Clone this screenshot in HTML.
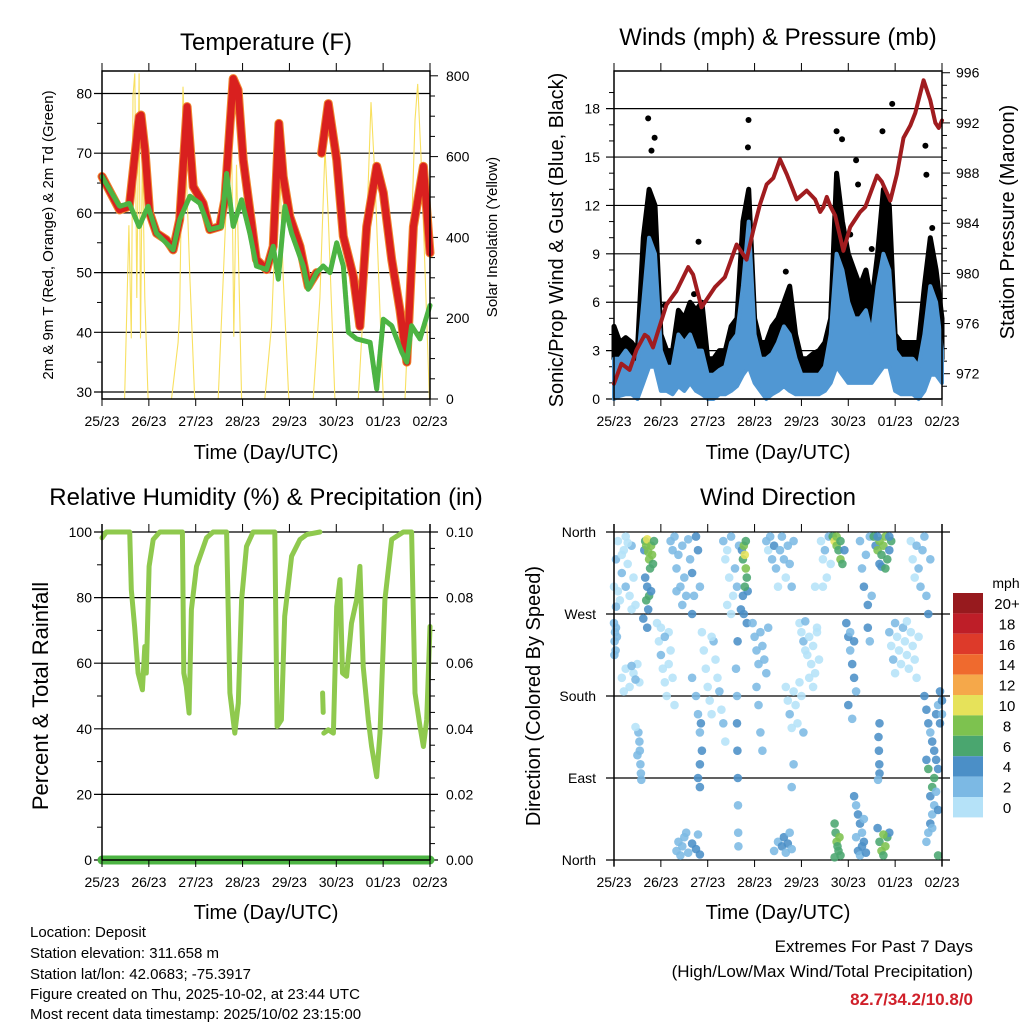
<!DOCTYPE html>
<html><head><meta charset="utf-8"><style>
html,body{margin:0;padding:0;background:#fff;}
svg{display:block;font-family:"Liberation Sans",Arial,sans-serif;}
</style></head><body>
<svg id="c" width="1024" height="1024" viewBox="0 0 1024 1024" xmlns="http://www.w3.org/2000/svg"></svg>
<script>
// ---------- DATA ----------
const dayLabels = ["25/23","26/23","27/23","28/23","29/23","30/23","01/23","02/23"];
const tempHours = [0,9,14,19,20,22,24.4,27.9,33,36.4,39.8,43.6,46.7,51.8,55.2,60.3,62.9,67.2,69.7,72.3,75.7,79.1,84.3,87.7,90.6,92.8,96.2,101.4,105.6,109.9,110.5,112.5,115.9,120.2,123.6,128.7,132.1,135.6,140.7,144.1,148.4,152.6,156.1,159.5,164.6,168];
const tempValues = [66.1,60.5,61.1,76.1,76.4,70.5,60,56.6,55.5,53.8,58.9,77.8,64.4,61.6,57.2,57.7,62.2,82.5,80.6,68.9,60.5,52.2,50.5,54.4,75,66.1,59.4,54.4,47.7,50,null,70,78.3,68.9,56.1,49.4,41,57.7,67.8,63.4,52.2,43.8,35,57.7,67.8,53.3];
const dewHours = [0,9,14,19,23.6,27.9,36.4,39.8,45,50.1,55.2,61.2,63.8,67.2,71.5,75.7,79.1,84.3,87.7,90.3,93.7,97.1,103.1,105.6,109.9,113.3,116.8,120.2,123.6,126.2,130.4,137.3,140.7,144.1,148.4,153.5,156.1,158.6,162.9,168];
const dewValues = [66.1,61.1,61.6,57.7,61.1,56.6,53.8,58.9,62.8,61.6,57.2,57.7,66.6,57.7,62.2,56.6,51.1,50.5,54.4,48.9,61.1,56.6,51.1,47.2,50,51.1,50,55,51.1,40,38.9,38.3,30.5,42.2,41.1,36.7,35,41.1,38.9,44.5];
const solarHours = [0,11.6,13.8,15,15.9,16.8,17.8,19,19.7,20.7,21.9,23.6,35.6,39,39.8,41.5,43.2,45,47.5,59.5,63.8,66.3,67.5,68.9,71.5,83.4,86.8,89.4,90.8,92.8,95.7,108.2,111.6,114.2,115.9,119.3,131.3,134.7,137.8,139.8,144.1,155.2,157.8,160.3,161.7,163.4,166.3,167.7];
const solarValues = [0,0,430,150,750,806,250,806,150,620,250,0,0,140,220,773,560,300,0,0,500,700,154,580,0,0,180,500,610,300,0,0,250,620,450,0,0,300,735,550,0,0,300,690,780,600,200,0];
const windHours = [0,3,6,9,12,15,18,21,24,27,30,33,36,39,42,45,48,51,54,57,60,63,66,69,72,75,78,81,84,87,90,93,96,99,102,105,108,111,114,117,120,123,126,129,132,135,138,141,144,147,150,153,156,159,162,165,168];
const windHi = [2.5,2.5,3,2.5,2,6,10,9,3,2,2,4,3.5,4,3,3,1.5,1.5,1.8,2,3.5,4,7,11,4,2.5,2.5,2.8,3.5,4.5,4,2.5,1.5,1.5,1.5,1.5,2,4,9,8,6,5,5,5.5,4,7,9,8,3,2.5,2.5,2.5,2,4,7,6,3];
const windLo = [0,0.2,0.3,0.3,0,1,2,2,0.5,0.5,0.3,0.8,0.5,1,0.5,0.3,0,0,0.3,0.3,0.5,0.8,1.5,2,1,0.5,0,0.3,0.5,0.8,0.5,0.3,0.3,0.3,0.3,0.3,0.5,1,2,1.5,1,1,1,1,1,1.5,2,2,0.5,0.3,0.3,0.3,0,0.5,1.5,1.5,1];
const gustHi = [4.5,3.5,3.8,3.5,3,10,13,12,4,3,3,5.5,5,6,5.5,6,2.5,2.5,3,3,4.5,5,11,13,5,3.5,3.5,4.5,5,6,7,4,2.5,2.5,2.8,3,3.5,5,14,11,9,8,7,8,6,9,13,12,4,3.5,3.5,3.5,3.5,7,10,8,5];
const gustLo = [2.5,2.5,2.5,2.5,1.5,4,6,5,2.5,2,2,2.5,2.5,3,2.5,2,1.5,1.5,1.5,1.5,2.5,3,5,6,3,2,2,2,2.5,3,3,2,1.5,1.5,1.5,1.5,2,2.5,5,4,3,3,2.5,3,2.5,4,6,5,2.5,2,2,1.5,1.5,3,4,3,2.5];
const gustOutHours = [17.5,20.8,19.2,43.3,68.9,68.6,114,116.8,124,125,142.5,137.5,159.5,160,163,41,26,88,121,132];
const gustOutValues = [17.4,16.2,15.4,9.75,17.3,15.6,16.6,16.1,14.8,13.3,18.3,16.6,15.7,13.9,10.6,6.5,5.8,7.9,10.2,9.3];
const presHours = [0,3.8,8,11.5,15.7,17.5,20,22.6,26.9,32,38,40.5,44.8,51.7,56.8,62.8,67.9,71.3,74.8,78.2,81.6,85,88.5,93.6,98.7,103,105.6,107.3,109,110.7,113.3,117.5,121,126.1,128.7,134.7,137.2,141.5,144.9,148.3,151.8,154.3,158.6,162,164.6,166.3,168];
const presValues = [971.2,972.8,972.3,973.9,975.1,974.9,974.1,975.4,977.5,978.6,980.5,979.9,977.3,978.9,979.7,982.3,981.1,983.4,985.5,987.1,987.6,989.1,987.9,985.9,986.6,985.9,984.9,985.3,986.1,985.4,984.6,981.8,983.7,984.9,985.3,987.8,987.3,985.8,987.9,990.8,991.8,992.8,995.4,993.8,992,991.6,992.2];
const rhHours = [0,2.2,14.2,15,16.7,18.5,20.7,21.9,22.7,24.1,26.2,29.6,41.2,41.9,43.2,44.6,45.8,48.4,53.5,56.9,63.8,65.5,68,69.8,71.5,74,77.4,88.5,89.7,91.9,93.6,97.1,101.4,104.8,111.6,112.2,113,113.3,113.5,113.6,115.9,118.5,120.2,121.9,123.2,125.3,127.8,130.4,132.1,133.8,136.4,138.1,140.7,142.4,144.9,148.4,154.3,158.6,160.3,162.9,164.6,166.3,168];
const rhValues = [98.2,100,100,82.4,71.2,57,51.9,65.1,57,89.5,97.7,100,100,57,52.9,44.8,76.3,89.5,98.2,100,100,50.9,38.7,47.8,79.3,95.6,100,100,40.7,42.7,74.3,92.6,97.7,99.2,100,null,50.9,45,null,38.7,39.7,38.7,77.3,85.5,57,56,72.2,79.3,89.5,59,42.7,34.6,25.4,38.7,79.3,97.7,100,100,50.9,40.7,34.6,42.7,71.2];
const precipHours = [0,168];
const precipValues = [0,0];
const dirPoints = [
[0,300,1],[1,330,2],[2,350,1],[3,285,1],[4,315,2],[5,340,1],[6,300,3],[7,325,1],[8,290,1],[9,345,2],[10,310,1],[11,280,1],[2,295,1],[6,355,1],[9,275,1],[4,335,1],[1,278,2],[7,348,1],
[0,260,3],[0.5,250,3],[0.3,240,3],[0.8,230,2],[1,255,2],[0.2,225,3],[1.5,245,2],
[4,200,1],[6,210,1],[8,190,1],[10,205,1],[12,215,1],[13,195,1],[5,185,1],[9,213,2],[11,198,2],
[15.5,340,5],[16,350,7],[16.5,345,8],[17,352,10],[17.5,338,8],[18,330,8],[18.5,320,7],[19,345,8],[19.5,335,9],[20,325,7],[16,310,5],[17,300,4],[18,290,6],[16.5,285,7],[17.5,275,5],[19,295,4],[20.5,350,6],[15,265,4],[17,255,4],
[12.5,140,2],[13,130,3],[13.2,120,3],[13.5,105,3],[13.8,95,3],[14,88,3],[11,146,1],[12,115,2],
[22,260,1],[23,240,1],[24,225,2],[25,210,1],[26,195,1],[27,180,1],[28,250,1],[29,230,1],[30,200,1],[31,170,1],[24,255,1],[26,245,2],[28,215,1],
[29,350,2],[30,340,3],[31,355,2],[32,320,3],[33,335,2],[34,300,3],[35,345,2],[36,310,3],[37,290,2],[38,352,3],[39,330,3],[40,315,4],[41,290,3],[42,355,4],[43,340,4],[44,300,3],[35,280,2],[32,295,3],[40,270,4],
[32,10,3],[33,20,2],[34,5,3],[35,15,3],[36,25,2],[38,8,3],[40,18,4],[42,12,4],[43,28,3],[44,6,4],[37,30,2],
[40,200,2],[42,180,2],[43,160,3],[44,140,3],[45,120,4],[46,230,1],[47,210,1],[48,190,1],[49,175,1],[50,160,1],[51,240,2],[52,220,1],[53,200,1],[54,185,2],[55,165,1],[56,150,2],[57,130,1],[45,250,1],[50,245,1],[44,105,4],[44,80,4],[43,90,4],[44.5,150,4],
[56,350,2],[57,330,1],[58,340,1],[59,310,1],[60,355,2],[61,290,1],[62,320,2],[63,300,3],[64,345,2],[58,280,1],[60,270,1],
[63,150,4],[63.2,120,4],[63.4,90,4],[63.5,60,3],[63.6,30,3],[63.7,15,2],[63,180,3],[62.5,210,3],[63.3,240,4],
[65.5,340,5],[66,330,6],[66.5,345,8],[67,335,10],[67.5,320,8],[68,310,6],[68.5,295,5],[67,300,6],[66,290,4],[65,275,4],[66.5,270,4],[68,260,4],[67.5,350,7],
[71,260,3],[72,245,2],[73,230,3],[74,215,2],[75,250,2],[76,235,3],[77,220,2],[78,205,2],[79,255,3],[73,190,2],[75,140,2],[76,120,2],[74,170,2],
[78,350,2],[79,340,1],[80,355,2],[81,330,2],[82,345,4],[83,320,2],[84,300,1],[85,340,2],[86,355,3],[87,330,2],[88,310,1],[89,345,2],[90,325,3],[91,300,2],[92,350,2],
[82,10,2],[84,20,3],[86,15,4],[87,25,4],[88,8,3],[89,18,4],[90,30,3],[91,12,2],
[88,190,1],[89,175,1],[90,160,2],[91,145,1],[92,185,1],[93,170,1],[94,150,1],[95,195,1],[96,180,1],[97,140,2],[92,105,2],[91,80,2],
[95,260,1],[96,250,1],[97,240,2],[98,230,1],[99,225,1],[100,245,1],[101,215,1],[102,235,1],[103,205,1],[104,255,1],[105,220,1],[98,262,2],[100,200,1],[102,190,1],[104,250,1],
[106,350,1],[107,330,1],[108,340,2],[109,310,1],[110,355,2],[111,325,1],[107,300,1],[103,300,1],
[112,355,6],[113,350,10],[114,345,8],[115,340,7],[116,330,8],[117,325,6],[114,355,8],[116,350,7],[118,340,5],
[113,40,6],[113.5,30,6],[114,20,8],[115,10,6],[116,5,6],[114.5,15,7],[115.5,25,8],[113,3,6],
[119,260,4],[120,245,4],[121,230,3],[122,215,4],[123,200,4],[124,185,3],[120,170,4],[122,155,2],[121,250,3],[123,240,4],
[123,70,4],[124,60,3],[125,50,4],[126,40,4],[127,30,3],[128,20,4],[125,10,4],[126,5,3],[127,15,4],[124,25,3],[128,45,3],[129,8,4],
[126,350,3],[127,320,2],[128,300,4],[129,335,2],[130,280,4],[131,355,3],[132,290,2],[130,255,4],[131,240,3],
[133,355,6],[134,345,5],[135,340,8],[136,350,8],[137,335,7],[138,345,8],[139,355,8],[140,330,6],[141,340,5],[142,350,7],[137,322,4],[136,325,5],[139,320,6],[135,355,4],[141,355,5],
[135,35,4],[136,20,6],[137,10,8],[138,5,7],[139,15,8],[140,25,6],[141,30,4],[138,28,8],
[135.5,135,4],[135.7,120,4],[135.9,105,4],[136,95,4],[135.2,88,3],[136,150,4],
[141,250,2],[142,235,1],[143,220,2],[144,205,1],[145,245,1],[146,230,1],[147,215,1],[148,255,2],[149,240,1],[150,225,1],[151,210,1],[152,250,1],[153,235,1],[154,220,1],[155,200,1],[156,245,1],[144,260,2],[150,262,1],
[152,350,1],[153,330,1],[154,310,1],[155,345,2],[156,320,3],[157,300,3],[158,340,2],[159,355,3],[160,290,3],[161,270,4],[162,330,2],
[159,180,4],[160,165,4],[161,150,4],[162,140,3],[163,130,4],[164,120,4],[165,110,4],[166,100,4],[167,185,4],[166,170,3],[165,160,4],[164,60,3],[163,50,3],[162,40,4],[161,30,3],[160,20,3],[164,90,6],[163,80,6],[162,70,4],[166,5,6],[161,100,6],[160,110,4],[167,150,4],[168,175,4],[168,160,3],[165,75,3],[163,35,2],[166,55,4]
];
const legendLabels = ["20+","18","16","14","12","10","8","6","4","2","0"];
const speedColors = ["#b5e2f8","#7cb9e4","#4b8fc7","#4aa66f","#7dc24f","#e6e25a","#f5a84a","#ef6a2e","#dd3a2a","#be1e28","#971a1e"];
const tempTicks = [30,40,50,60,70,80];
const solarTicks = [0,200,400,600,800];
const windTicks = [0,3,6,9,12,15,18];
const presTicks = [972,976,980,984,988,992,996];
const rhTicks = [0,20,40,60,80,100];
const rainTicks = ["0.00","0.02","0.04","0.06","0.08","0.10"];
const dirTicks = ["North","East","South","West","North"];

// ---------- SCALES ----------
const svg = document.getElementById('c');
const NS = "http://www.w3.org/2000/svg";
const L = {x0:102,x1:430}, R = {x0:614,x1:942};
const xL = h => L.x0 + h/168*(L.x1-L.x0);
const xR = h => R.x0 + h/168*(R.x1-R.x0);
const yT = t => 392 - (t-30)*5.97;
const ySol = w => 399 - w*0.404;
const yW = m => 399 - m*16.13;
const yP = p => 373.7 - (p-972)*12.54;
const yRH = r => 860 - r*3.28;
const yRain = v => 860 - v*3280;
const yD = d => 860 - d*328/360;

function mk(tag, attrs, name, parent){
  const el = document.createElementNS(NS, tag);
  for (const k in attrs) el.setAttribute(k, attrs[k]);
  
  
  (parent||svg).appendChild(el);
  return el;
}
function txt(x,y,s,size,name,anchor,extra){
  const t = mk('text', Object.assign({x:x,y:y,'font-size':size,'text-anchor':anchor||'middle',fill:'#000'}, extra||{}), name);
  t.textContent = s;
  return t;
}
function line(x1,y1,x2,y2,name,w,col){ return mk('line',{x1:x1,y1:y1,x2:x2,y2:y2,stroke:col||'#000','stroke-width':w||1},name); }
function pathOf(hs, vs, fx, fy){
  let d = '', pen = false;
  for (let i=0;i<hs.length;i++){
    if (vs[i]===null){ pen=false; continue; }
    d += (pen?'L':'M') + fx(hs[i]).toFixed(1) + ' ' + fy(vs[i]).toFixed(1) + ' ';
    pen = true;
  }
  return d;
}
function xAxis(P, fx, top, bottom, labY, titleY, id){
  for (let i=0;i<8;i++){
    const x = fx(i*24);
    line(x, top-8, x, top, id+'-top-tick', 1);
    line(x, bottom, x, bottom+7, id+'-bottom-tick', 1);
    txt(x, labY, dayLabels[i], 14, id+'-x-tick-label');
  }
  txt((P.x0+P.x1)/2, titleY, 'Time (Day/UTC)', 20, id+'-x-axis-title');
}

// ===== PANEL 1: Temperature =====
txt(266, 50, 'Temperature (F)', 24, 'temperature-title');
tempTicks.forEach(t => {
  line(L.x0-8, yT(t), L.x1, yT(t), 'temp-gridline', 1.2);
  txt(L.x0-10, yT(t)+5, String(t), 14, 'temp-y-tick-label', 'end');
});
for (let t=30; t<=84; t+=5) if (t%10) line(L.x0-5, yT(t), L.x0, yT(t), 'temp-minor-tick', 1);
solarTicks.forEach(w => {
  line(L.x1, ySol(w), L.x1+8, ySol(w), 'solar-tick', 1);
  txt(L.x1+16, ySol(w)+5, String(w), 14, 'solar-y-tick-label', 'start');
});
for (let w=50; w<=800; w+=50) if (w%200) line(L.x1, ySol(w), L.x1+5, ySol(w), 'solar-minor-tick', 1);
mk('path',{d:pathOf(solarHours,solarValues,xL,ySol),fill:'none',stroke:'#f8e060','stroke-width':1.1},'solar-insolation-line');
mk('path',{d:pathOf(tempHours,tempValues,xL,yT),fill:'none',stroke:'#f0862e','stroke-width':9,'stroke-linejoin':'round','stroke-linecap':'round'},'temp-9m-orange-line');
mk('path',{d:pathOf(tempHours,tempValues,xL,yT),fill:'none',stroke:'#d9201f','stroke-width':7,'stroke-linejoin':'round','stroke-linecap':'round'},'temp-2m-red-line');
mk('path',{d:pathOf(dewHours,dewValues,xL,yT),fill:'none',stroke:'#4cb443','stroke-width':5,'stroke-linejoin':'round','stroke-linecap':'round','stroke-dasharray':'4 1'},'dewpoint-green-line');
mk('rect',{x:L.x0,y:71,width:L.x1-L.x0,height:328,fill:'none',stroke:'#000','stroke-width':1.5},'temp-plot-frame');
xAxis(L, xL, 71, 399, 426, 459, 'temp');
txt(0,0,'2m & 9m T (Red, Orange) & 2m Td (Green)',15,'temp-y-axis-title','middle',{transform:'translate(53,235) rotate(-90)'});
txt(0,0,'Solar Insolation (Yellow)',15,'solar-y-axis-title','middle',{transform:'translate(497,237) rotate(-90)'});

// ===== PANEL 2: Winds & Pressure =====
txt(778, 45, 'Winds (mph) & Pressure (mb)', 24, 'winds-title');
windTicks.forEach(m => {
  line(R.x0-8, yW(m), R.x1, yW(m), 'wind-gridline', 1.2);
  txt(R.x0-14, yW(m)+5, String(m), 14, 'wind-y-tick-label', 'end');
});
for (let m=1; m<=19; m++) if (m%3) line(R.x0-5, yW(m), R.x0, yW(m), 'wind-minor-tick', 1);
presTicks.forEach(p => {
  line(R.x1, yP(p), R.x1+8, yP(p), 'pressure-tick', 1);
  txt(R.x1+14, yP(p)+5, String(p), 14, 'pressure-y-tick-label', 'start');
});
for (let p=971; p<=996; p++) if (p%4) line(R.x1, yP(p), R.x1+5, yP(p), 'pressure-minor-tick', 1);
{
  let d='M';
  for (let i=0;i<windHours.length;i++) d += xR(windHours[i]).toFixed(1)+' '+yW(gustHi[i]).toFixed(1)+' L';
  for (let i=windHours.length-1;i>=0;i--) d += xR(windHours[i]).toFixed(1)+' '+yW(gustLo[i]).toFixed(1)+(i?' L':' Z');
  mk('path',{d:d,fill:'#000',stroke:'#000','stroke-width':5,'stroke-linejoin':'round'},'gust-black-band');
  let d2='M';
  for (let i=0;i<windHours.length;i++) d2 += xR(windHours[i]).toFixed(1)+' '+yW(windHi[i]).toFixed(1)+' L';
  for (let i=windHours.length-1;i>=0;i--) d2 += xR(windHours[i]).toFixed(1)+' '+yW(windLo[i]).toFixed(1)+(i?' L':' Z');
  mk('path',{d:d2,fill:'#5097d3',stroke:'#5097d3','stroke-width':4,'stroke-linejoin':'round'},'wind-speed-blue-band');
}
gustOutHours.forEach((h,i) => {
  mk('circle',{cx:xR(h),cy:yW(gustOutValues[i]),r:3,fill:'#000'},'gust-point');
});
mk('path',{d:pathOf(presHours,presValues,xR,yP),fill:'none',stroke:'#a01c1f','stroke-width':4,'stroke-linejoin':'round','stroke-linecap':'round'},'pressure-maroon-line');
mk('rect',{x:R.x0,y:71,width:R.x1-R.x0,height:328,fill:'none',stroke:'#000','stroke-width':1.5},'wind-plot-frame');
xAxis(R, xR, 71, 399, 426, 459, 'wind');
txt(0,0,'Sonic/Prop Wind & Gust (Blue, Black)',20,'wind-y-axis-title','middle',{transform:'translate(563,240) rotate(-90)'});
txt(0,0,'Station Pressure (Maroon)',20,'pressure-y-axis-title','middle',{transform:'translate(1014,222) rotate(-90)'});

// ===== PANEL 3: RH & Precip =====
txt(266, 505, 'Relative Humidity (%) & Precipitation (in)', 24, 'rh-title');
rhTicks.forEach((r,i) => {
  line(L.x0-8, yRH(r), L.x1+8, yRH(r), 'rh-gridline', 1.2);
  txt(L.x0-10, yRH(r)+5, String(r), 14, 'rh-y-tick-label', 'end');
  txt(L.x1+16, yRH(r)+5, rainTicks[i], 14, 'rain-y-tick-label', 'start');
});
for (let r=10; r<100; r+=20){ line(L.x0-5, yRH(r), L.x0, yRH(r), 'rh-minor-tick', 1); }
for (let r=5; r<100; r+=5) if (r%20) line(L.x1, yRH(r), L.x1+5, yRH(r), 'rain-minor-tick', 1);
mk('path',{d:pathOf(rhHours,rhValues,xL,yRH),fill:'none',stroke:'#8fc94e','stroke-width':5,'stroke-linejoin':'round','stroke-linecap':'round'},'rh-line');
mk('path',{d:pathOf(precipHours,precipValues,xL,yRain),fill:'none',stroke:'#4cb443','stroke-width':9,'stroke-linecap':'round'},'precip-line');
line(L.x0,524,L.x0,860,'rh-left-axis',1.5);
line(L.x1,524,L.x1,860,'rh-right-axis',1.5);
line(L.x0,860,L.x1,860,'rh-bottom-axis',1.5);
xAxis(L, xL, 532, 860, 887, 919, 'rh');
txt(0,0,'Percent & Total Rainfall',22,'rh-y-axis-title','middle',{transform:'translate(48,696) rotate(-90)'});

// ===== PANEL 4: Wind direction =====
txt(778, 505, 'Wind Direction', 24, 'direction-title');
dirTicks.forEach((s,i) => {
  line(R.x0-8, yD(i*90), R.x1+8, yD(i*90), 'direction-gridline', 1.2);
  txt(R.x0-18, yD(i*90)+5, s, 14, 'direction-y-tick-label', 'end');
});
dirPoints.forEach(p => {
  const ci = Math.min(10, Math.floor(p[2]/2));
  mk('circle',{cx:xR(p[0]).toFixed(1),cy:yD(p[1]).toFixed(1),r:4.3,fill:speedColors[ci],'fill-opacity':0.88},'direction-point');
});
line(R.x0,524,R.x0,866,'direction-left-axis',1.5);
line(R.x1,524,R.x1,866,'direction-right-axis',1.5);
xAxis(R, xR, 532, 860, 887, 919, 'direction');
txt(0,0,'Direction (Colored By Speed)',20,'direction-y-axis-title','middle',{transform:'translate(540,696) rotate(-90)'});
txt(1006, 588, 'mph', 14, 'legend-title');
legendLabels.forEach((s,i) => {
  const y = 593 + i*20.4;
  mk('rect',{x:953,y:y,width:30,height:20.4,fill:speedColors[10-i]},'legend-swatch');
  txt(1007, y+16, s, 15, 'legend-label');
});

// ===== Footer text =====
const info = ['Location: Deposit','Station elevation: 311.658 m','Station lat/lon: 42.0683; -75.3917','Figure created on Thu, 2025-10-02, at 23:44 UTC','Most recent data timestamp: 2025/10/02 23:15:00'];
const infoY = [937,958,979,999,1019];
info.forEach((s,i) => txt(30, infoY[i], s, 15, 'station-info-line', 'start'));
txt(973, 952, 'Extremes For Past 7 Days', 17, 'extremes-title', 'end');
txt(973, 977, '(High/Low/Max Wind/Total Precipitation)', 17, 'extremes-subtitle', 'end');
txt(973, 1005, '82.7/34.2/10.8/0', 17, 'extremes-values', 'end', {fill:'#d0202a','font-weight':'bold'});
</script>
</body></html>
